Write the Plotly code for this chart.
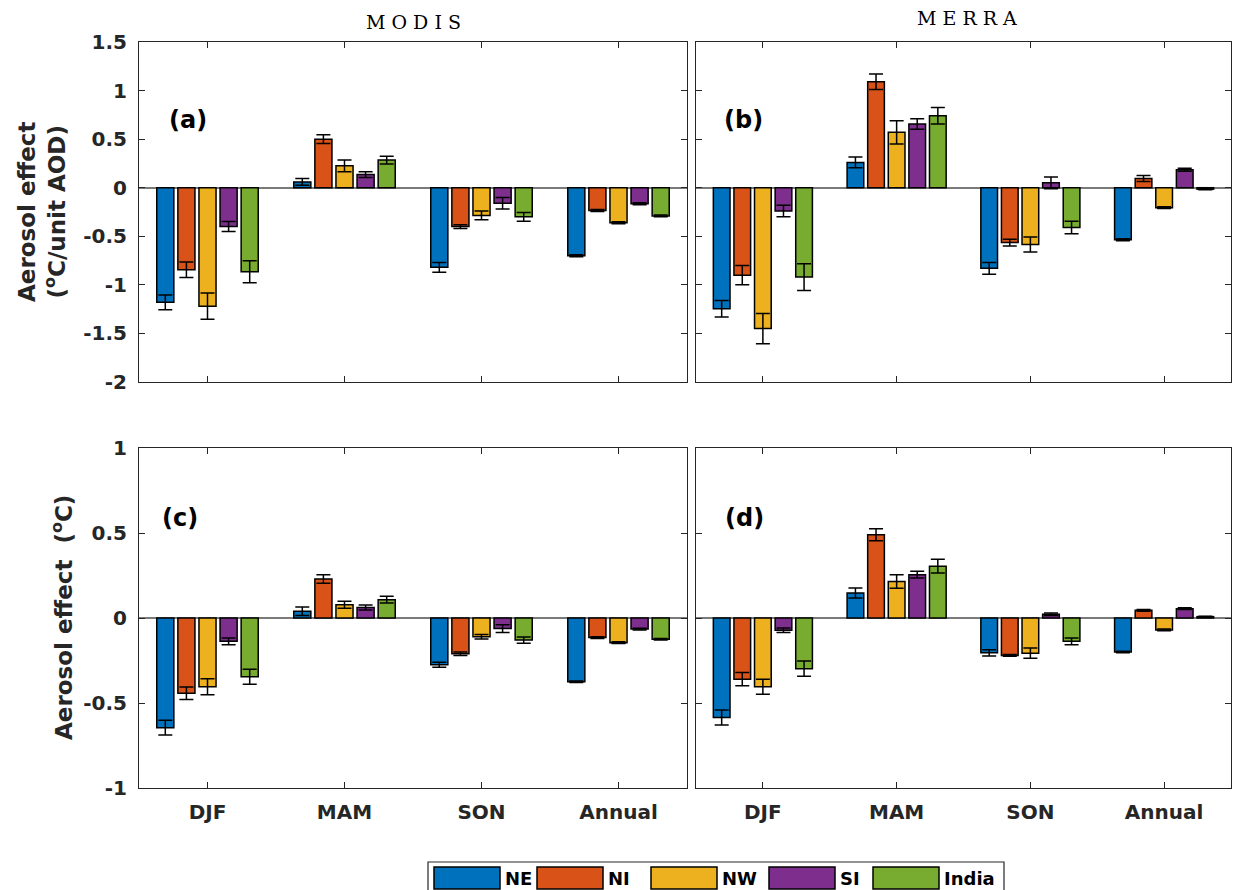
import plotly.graph_objects as go

categories = ["DJF", "MAM", "SON", "Annual"]
regions = ["NE", "NI", "NW", "SI", "India"]
colors = ["#0072BD", "#D95319", "#EDB120", "#7E2F8E", "#77AC30"]

# (a) MODIS, per unit AOD
a_vals = {
    "NE":    [-1.18, 0.06, -0.82, -0.70],
    "NI":    [-0.845, 0.50, -0.40, -0.235],
    "NW":    [-1.22, 0.225, -0.285, -0.36],
    "SI":    [-0.40, 0.135, -0.16, -0.165],
    "India": [-0.865, 0.285, -0.30, -0.29],
}
a_errs = {
    "NE":    [0.075, 0.035, 0.05, 0.01],
    "NI":    [0.08, 0.045, 0.02, 0.01],
    "NW":    [0.135, 0.06, 0.045, 0.01],
    "SI":    [0.052, 0.03, 0.06, 0.01],
    "India": [0.114, 0.04, 0.045, 0.01],
}
# (b) MERRA, per unit AOD
b_vals = {
    "NE":    [-1.245, 0.26, -0.83, -0.535],
    "NI":    [-0.90, 1.09, -0.565, 0.095],
    "NW":    [-1.45, 0.57, -0.585, -0.205],
    "SI":    [-0.24, 0.655, 0.05, 0.185],
    "India": [-0.92, 0.74, -0.41, -0.015],
}
b_errs = {
    "NE":    [0.085, 0.055, 0.06, 0.01],
    "NI":    [0.10, 0.08, 0.035, 0.03],
    "NW":    [0.155, 0.12, 0.078, 0.01],
    "SI":    [0.06, 0.054, 0.06, 0.015],
    "India": [0.137, 0.085, 0.065, 0.005],
}
# (c) MODIS, degC
c_vals = {
    "NE":    [-0.645, 0.04, -0.275, -0.375],
    "NI":    [-0.443, 0.23, -0.21, -0.115],
    "NW":    [-0.405, 0.078, -0.11, -0.145],
    "SI":    [-0.137, 0.062, -0.062, -0.065],
    "India": [-0.345, 0.108, -0.13, -0.125],
}
c_errs = {
    "NE":    [0.043, 0.025, 0.015, 0.005],
    "NI":    [0.037, 0.025, 0.01, 0.005],
    "NW":    [0.047, 0.02, 0.013, 0.005],
    "SI":    [0.02, 0.015, 0.023, 0.005],
    "India": [0.044, 0.02, 0.018, 0.005],
}
# (d) MERRA, degC
d_vals = {
    "NE":    [-0.585, 0.147, -0.205, -0.20],
    "NI":    [-0.36, 0.49, -0.22, 0.045],
    "NW":    [-0.405, 0.215, -0.207, -0.07],
    "SI":    [-0.072, 0.255, 0.022, 0.055],
    "India": [-0.298, 0.305, -0.137, 0.008],
}
d_errs = {
    "NE":    [0.044, 0.03, 0.018, 0.005],
    "NI":    [0.039, 0.035, 0.005, 0.005],
    "NW":    [0.044, 0.04, 0.03, 0.005],
    "SI":    [0.013, 0.02, 0.008, 0.005],
    "India": [0.045, 0.04, 0.02, 0.003],
}

top_ticks = [-2, -1.5, -1, -0.5, 0, 0.5, 1, 1.5]
top_ticktext = ["-2", "-1.5", "-1", "-0.5", "0", "0.5", "1", "1.5"]
bot_ticks = [-1, -0.5, 0, 0.5, 1]
bot_ticktext = ["-1", "-0.5", "0", "0.5", "1"]

W, H = 1233, 890
FONT = "DejaVu Sans"
AX = "#262626"

def px_x(p):
    return p / W

def px_y(p):
    return 1 - p / H

panels = [
    ("x", "y", a_vals, a_errs),
    ("x2", "y2", b_vals, b_errs),
    ("x3", "y3", c_vals, c_errs),
    ("x4", "y4", d_vals, d_errs),
]

fig = go.Figure()
for xa, ya, vals, errs in panels:
    for reg, col in zip(regions, colors):
        fig.add_trace(go.Bar(
            x=categories, y=vals[reg], name=reg, xaxis=xa, yaxis=ya,
            marker=dict(color=col, line=dict(color="black", width=1.5)),
            error_y=dict(type="data", array=errs[reg], color="black",
                         thickness=1.5, width=7),
            showlegend=False, hoverinfo="skip",
        ))

xdom_l = [px_x(139), px_x(687)]
xdom_r = [px_x(696), px_x(1231)]
ydom_t = [px_y(382), px_y(42)]
ydom_b = [px_y(788), px_y(448)]

def xaxis(dom, anchor, labels):
    return dict(domain=dom, anchor=anchor, type="category",
                categoryorder="array", categoryarray=categories,
                range=[-0.5, 3.5], showline=True, linecolor=AX, linewidth=1,
                mirror="ticks", ticks="inside", ticklen=6, tickcolor=AX,
                showticklabels=labels, showgrid=False, zeroline=False,
                automargin=False, ticklabelstandoff=6,
                tickfont=dict(family=FONT, size=20, color=AX, weight="bold"))

def yaxis(dom, anchor, rng, tv, tt, labels):
    return dict(domain=dom, anchor=anchor, range=rng, tickvals=tv, ticktext=tt,
                showline=True, linecolor=AX, linewidth=1, mirror="ticks",
                ticks="inside", ticklen=6, tickcolor=AX, showgrid=False,
                zeroline=True, zerolinecolor="#7a7a7a", zerolinewidth=1.5,
                showticklabels=labels, ticklabelstandoff=7, automargin=False,
                tickfont=dict(family=FONT, size=20, color=AX, weight="bold"))

fig.update_layout(
    width=W, height=H, margin=dict(l=0, r=0, t=0, b=0, autoexpand=False),
    paper_bgcolor="white", plot_bgcolor="white",
    barmode="group", bargap=0.23, bargroupgap=0.19,
    showlegend=False,
    xaxis=xaxis(xdom_l, "y", False),
    yaxis=yaxis(ydom_t, "x", [-2, 1.5], top_ticks, top_ticktext, True),
    xaxis2=xaxis(xdom_r, "y2", False),
    yaxis2=yaxis(ydom_t, "x2", [-2, 1.5], top_ticks, top_ticktext, False),
    xaxis3=xaxis(xdom_l, "y3", True),
    yaxis3=yaxis(ydom_b, "x3", [-1, 1], bot_ticks, bot_ticktext, True),
    xaxis4=xaxis(xdom_r, "y4", True),
    yaxis4=yaxis(ydom_b, "x4", [-1, 1], bot_ticks, bot_ticktext, False),
)

ann = []
# column titles
for txt, xp, yp in [("M O D I S", 413, 22), ("M E R R A", 967, 18)]:
    ann.append(dict(text=txt, x=px_x(xp), y=px_y(yp), xref="paper", yref="paper",
                    xanchor="center", yanchor="middle", showarrow=False,
                    font=dict(family="DejaVu Serif", size=19, color="black")))
# panel labels
for lab, xr, yr, xp, yp in [("(a)", "x domain", "y domain", 0.089, 0.77),
                            ("(b)", "x2 domain", "y2 domain", 0.088, 0.77),
                            ("(c)", "x3 domain", "y3 domain", 0.075, 0.794),
                            ("(d)", "x4 domain", "y4 domain", 0.09, 0.794)]:
    ann.append(dict(text=lab, x=xp, y=yp, xref=xr, yref=yr, showarrow=False,
                    xanchor="center", yanchor="middle",
                    font=dict(family=FONT, size=24, color="black", weight="bold")))
# y axis titles
ann.append(dict(text="Aerosol effect<br>(<sup>o</sup>C/unit AOD)", x=px_x(42), y=px_y(212),
                xref="paper", yref="paper", showarrow=False, textangle=-90,
                xanchor="center", yanchor="middle",
                font=dict(family=FONT, size=23, color=AX, weight="bold")))
ann.append(dict(text="Aerosol effect  (<sup>o</sup>C)", x=px_x(62), y=px_y(618),
                xref="paper", yref="paper", showarrow=False, textangle=-90,
                xanchor="center", yanchor="middle",
                font=dict(family=FONT, size=23, color=AX, weight="bold")))

# custom legend
shapes = []
shapes.append(dict(type="rect", xref="paper", yref="paper", x0=px_x(428), x1=px_x(1004),
                   y0=px_y(892), y1=px_y(862), line=dict(color="#262626", width=1.2),
                   fillcolor="white", layer="below"))
sw = [(434, 500), (537, 603), (651, 717), (769, 835), (873, 939)]
for (x0, x1), reg, col in zip(sw, regions, colors):
    shapes.append(dict(type="rect", xref="paper", yref="paper", x0=px_x(x0), x1=px_x(x1),
                       y0=px_y(889), y1=px_y(867), line=dict(color="black", width=1.5),
                       fillcolor=col))
    ann.append(dict(text=reg, x=px_x(x1 + 3), y=px_y(878), xref="paper", yref="paper",
                    xanchor="left", yanchor="middle", showarrow=False,
                    font=dict(family=FONT, size=18, color="black", weight="bold")))

fig.update_layout(annotations=ann, shapes=shapes)
fig.write_html("out.html", config={"displayModeBar": False},
               post_script="document.body.style.margin='0';document.body.style.overflow='hidden';")
